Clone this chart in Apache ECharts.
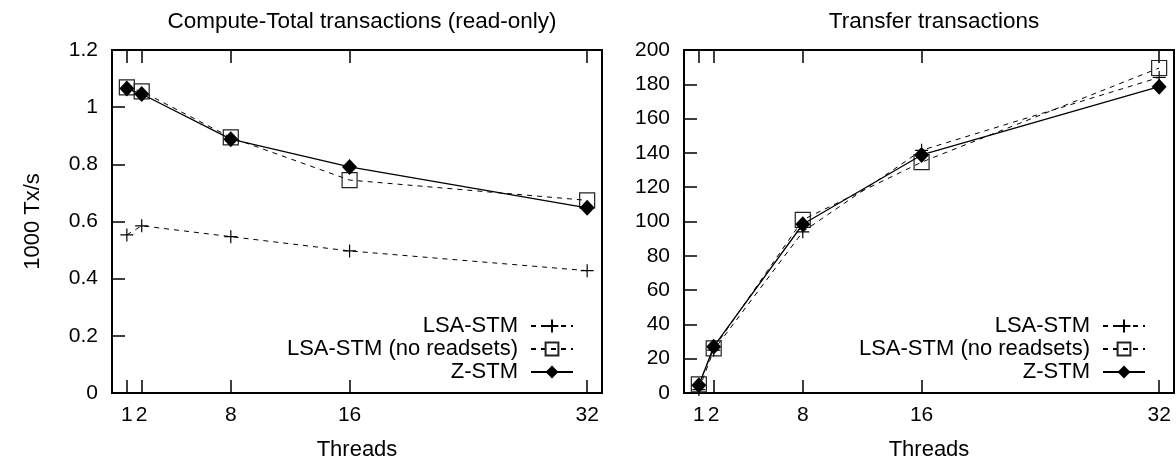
<!DOCTYPE html>
<html>
<head>
<meta charset="utf-8">
<script src="https://cdn.jsdelivr.net/npm/echarts@6/dist/echarts.min.js"></script>
<style>
  html, body { margin: 0; padding: 0; background: #fff; }
  #chart { width: 1176px; height: 466px; }
</style>
</head>
<body>
<div id="chart"></div>
<script>
// data
const threads = [1, 2, 8, 16, 32];
const xTicks = [1, 2, 8, 16, 32];
const computeLsa = [0.553, 0.585, 0.547, 0.497, 0.428];
const computeLsaNoRs = [1.069, 1.055, 0.894, 0.745, 0.674];
const computeZ = [1.065, 1.046, 0.888, 0.791, 0.648];
const transferLsa = [2, 25, 94, 141.5, 184];
const transferLsaNoRs = [5, 26, 101, 134.6, 189.5];
const transferZ = [4.5, 27, 98.4, 138.8, 178.6];
const names = ['LSA-STM', 'LSA-STM (no readsets)', 'Z-STM'];

const font = "'Liberation Sans', Arial, sans-serif";
const fs = 21;   // tick labels
const fsText = 22; // titles, axis names, legend

function pairs(vals) {
  return threads.map((t, i) => [t, vals[i]]);
}

// styles per series
const styles = [
  { // LSA-STM : plus, dashed
    symbol: 'path://M0,5L10,5M5,0L5,10', symbolSize: 13,
    itemStyle: { color: 'rgba(0,0,0,0)', borderColor: '#000', borderWidth: 1.2 },
    lineStyle: { color: '#000', width: 1, type: [5, 5] }
  },
  { // no readsets : hollow square, dashed
    symbol: 'rect', symbolSize: 15,
    itemStyle: { color: 'rgba(0,0,0,0)', borderColor: '#222', borderWidth: 1.2 },
    lineStyle: { color: '#000', width: 1, type: [5, 5] }
  },
  { // Z-STM : filled diamond, solid
    symbol: 'diamond', symbolSize: [15, 16],
    itemStyle: { color: '#000', borderColor: '#000', borderWidth: 0 },
    lineStyle: { color: '#000', width: 1.3, type: 'solid' }
  }
];

function mkSeries(idx, vals, axisIdx) {
  const s = styles[idx];
  return {
    name: names[idx],
    type: 'line',
    xAxisIndex: axisIdx * 2,
    yAxisIndex: axisIdx,
    data: pairs(vals),
    symbol: s.symbol,
    symbolSize: s.symbolSize,
    itemStyle: s.itemStyle,
    lineStyle: s.lineStyle,
    emphasis: { disabled: true },
    z: 2 + idx
  };
}

function xAxes(gridIndex) {
  const tick = { show: true, inside: true, length: 13, customValues: xTicks, lineStyle: { color: '#000', width: 1.5 } };
  return [
    {
      type: 'value', gridIndex: gridIndex, min: 0, max: 33, position: 'bottom',
      axisLine: { show: false }, splitLine: { show: false },
      axisTick: tick,
      axisLabel: { customValues: xTicks, margin: 12, color: '#000', fontSize: fs, fontFamily: font },
      name: 'Threads', nameLocation: 'middle', nameGap: 46,
      nameTextStyle: { color: '#000', fontSize: fsText, fontFamily: font }
    },
    {
      type: 'value', gridIndex: gridIndex, min: 0, max: 33, position: 'top',
      axisLine: { show: false }, splitLine: { show: false },
      axisTick: tick,
      axisLabel: { show: false }
    }
  ];
}

function yAxis(gridIndex, max, interval, name) {
  return {
    type: 'value', gridIndex: gridIndex, min: 0, max: max, interval: interval,
    axisLine: { show: false }, splitLine: { show: false },
    axisTick: { show: true, inside: true, length: 13, lineStyle: { color: '#000', width: 1.5 } },
    axisLabel: { margin: 14, color: '#000', fontSize: fs, fontFamily: font },
    name: name, nameLocation: 'middle', nameGap: 68,
    nameTextStyle: { color: '#000', fontSize: fsText, fontFamily: font }
  };
}

// one legend per row so the text lines up to the right
const legendRows = [315, 338, 361];
function legends(rightPx) {
  return names.map((n, i) => ({
    data: [n],
    orient: 'vertical',
    right: rightPx,
    top: legendRows[i],
    align: 'right',
    padding: 0,
    itemWidth: 42,
    itemHeight: 16,
    selectedMode: false,
    textStyle: { color: '#000', fontSize: fsText, fontFamily: font, padding: [0, 8, 0, 0] }
  }));
}

const chart = echarts.init(document.getElementById('chart'));
const option = {
  animation: false,
  backgroundColor: '#fff',
  title: [
    { text: 'Compute-Total transactions (read-only)', left: 357, top: 5, textAlign: 'center',
      textStyle: { color: '#000', fontSize: 22.5, fontWeight: 'normal', fontFamily: font } },
    { text: 'Transfer transactions', left: 929, top: 5, textAlign: 'center',
      textStyle: { color: '#000', fontSize: 22.5, fontWeight: 'normal', fontFamily: font } }
  ],
  grid: [
    { left: 112, top: 50, width: 490, height: 343, show: true, borderColor: '#000', borderWidth: 2, backgroundColor: 'transparent' },
    { left: 684, top: 50, width: 490, height: 343, show: true, borderColor: '#000', borderWidth: 2, backgroundColor: 'transparent' }
  ],
  xAxis: xAxes(0).concat(xAxes(1)),
  yAxis: [yAxis(0, 1.2, 0.2, '1000 Tx/s'), yAxis(1, 200, 20, '')],
  legend: legends(602).concat(legends(30)),
  series: [
    mkSeries(0, computeLsa, 0),
    mkSeries(1, computeLsaNoRs, 0),
    mkSeries(2, computeZ, 0),
    mkSeries(0, transferLsa, 1),
    mkSeries(1, transferLsaNoRs, 1),
    mkSeries(2, transferZ, 1)
  ]
};
chart.setOption(option);
window.addEventListener('resize', () => chart.resize());
</script>
</body>
</html>
